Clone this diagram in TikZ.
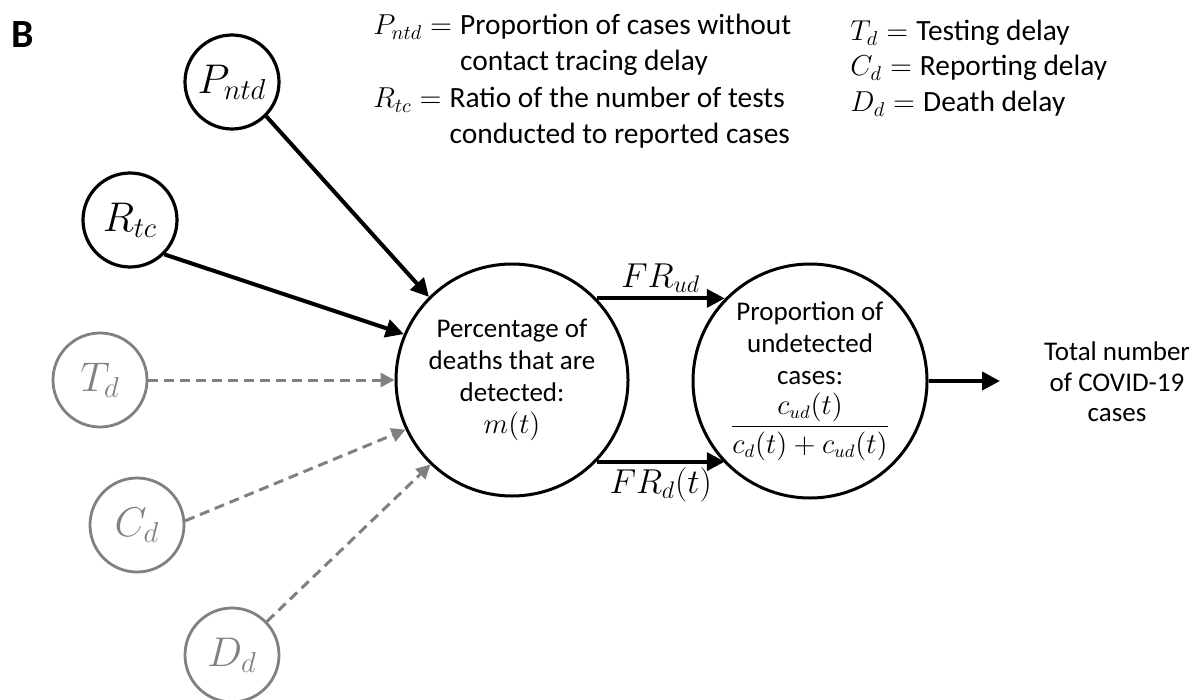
\documentclass[tikz,border=0pt]{standalone}
\usepackage{amsmath}
\usepackage{fontspec}
\setmainfont{Carlito}
\usetikzlibrary{arrows.meta}
\definecolor{delaygray}{HTML}{808080}
\tikzset{
    param/.style={
        circle, draw=black, line width=1.6pt, minimum size=47pt, inner sep=0pt,
        font=\fontsize{20}{24}\selectfont
    },
    delay/.style={param, draw=delaygray, text=delaygray, line width=1.4pt},
    stage/.style={
        circle, draw=black, line width=1.5pt, minimum size=116pt, inner sep=0pt,
        align=center, font=\fontsize{13.5}{16}\selectfont
    },
    arrow/.style={-{Triangle[length=9pt, width=9pt]}, line width=2pt, draw=black},
    dasharrow/.style={-{Triangle[length=7pt, width=7pt]}, line width=1.5pt, draw=delaygray,
        dash pattern=on 5pt off 3pt},
    legend/.style={anchor=base west, inner sep=0pt, font=\fontsize{14.7}{18}\selectfont},
    flowlabel/.style={font=\fontsize{16.5}{19}\selectfont, inner sep=2pt}
}

\begin{document}
\begin{tikzpicture}[x=0.5pt, y=-0.5pt]
\useasboundingbox (0,0) rectangle (1192,700);

% === PANEL LABEL ===
\node (panel) [font=\fontsize{20}{24}\selectfont\bfseries] at (23,35) {B};

% === LEGEND ===
\node (defPntd) [legend] at (373,35) {$P_{ntd} = {}$\begin{tabular}[t]{@{}l@{}}Proportion of cases without\\contact tracing delay\end{tabular}};
\node (defRtc)  [legend] at (373,108) {$R_{tc} = {}$\begin{tabular}[t]{@{}l@{}}Ratio of the number of tests\\conducted to reported cases\end{tabular}};
\node (defTd)   [legend] at (850,41)  {$T_d = {}$Testing delay};
\node (defCd)   [legend] at (850,76)  {$C_d = {}$Reporting delay};
\node (defDd)   [legend] at (850,112) {$D_d = {}$Death delay};

% === INPUT PARAMETERS ===
\node (pntd) [param] at (232,82)  {$P_{ntd}$};
\node (rtc)  [param] at (130,220) {$R_{tc}$};
\node (td)   [delay] at (100,380) {$T_d$};
\node (cd)   [delay] at (137,525) {$C_d$};
\node (dd)   [delay] at (232,655) {$D_d$};

% === STAGES ===
\node (detect) [stage] at (512,380) {Percentage of\\deaths that are\\detected:\\$m(t)$};
\node (undet)  [stage, minimum size=117pt] at (810,381) {Proportion of\\undetected\\cases:\\[3pt]$\dfrac{c_{ud}(t)}{c_d(t)+c_{ud}(t)}$};
\node (total)  [align=center, font=\fontsize{13.5}{15.3}\selectfont] at (1117,382) {Total number\\of COVID-19\\cases};
\coordinate (outend) at (1000,381);

% === ARROWS ===
\draw [arrow] (pntd.-45) -- (detect.135);
\draw [arrow] (rtc.-45) -- (detect.157);
\draw [dasharrow] (td.east) -- (detect.180);
\draw [dasharrow] (cd.5) -- (detect.205);
\draw [dasharrow] (dd) -- (detect.226);

\draw [arrow] (detect.44) -- node[above, flowlabel]{$FR_{ud}$} (detect.44 -| undet.136);
\draw [arrow] (detect.-44) -- node[below, flowlabel]{$FR_d(t)$} (detect.-44 -| undet.-136);
\draw [arrow] (undet.east) -- (outend);

\end{tikzpicture}
\end{document}
